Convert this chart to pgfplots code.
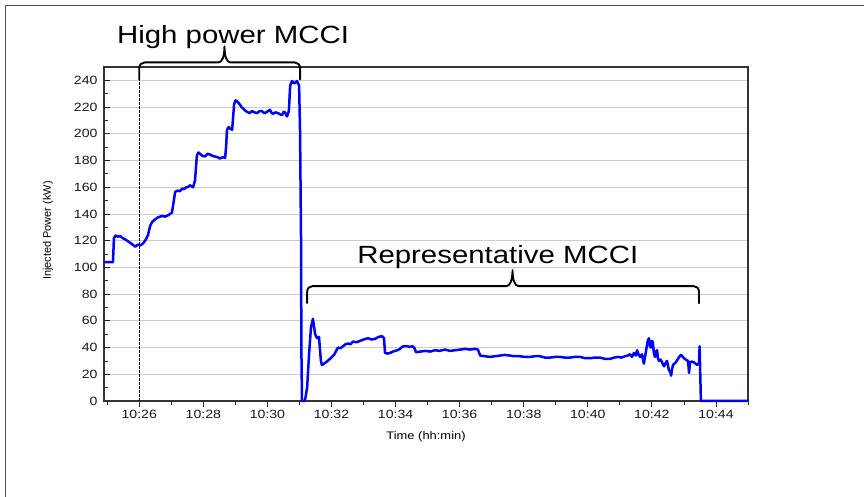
\documentclass[border=0pt]{standalone}
\usepackage{fontspec}
\setmainfont{Liberation Sans}[FakeStretch=1.18]
\newfontfamily\ylabfont{Liberation Sans}
\usepackage{pgfplots}
\pgfplotsset{compat=1.18}
\usetikzlibrary{calc}
\begin{document}
\begin{tikzpicture}
\path[use as bounding box] (0,0) rectangle (864bp,497bp);
\draw[line width=1.5bp, black!70] (5.5bp,0) -- (5.5bp,491.5bp) -- (864bp,491.5bp);
\begin{axis}[
  at={(104bp,96bp)}, anchor=south west,
  width=644bp, height=334bp, scale only axis,
  xmin=24.9, xmax=45.0, ymin=0, ymax=250,
  xtick={26,28,...,44},
  xticklabels={10:26,10:28,10:30,10:32,10:34,10:36,10:38,10:40,10:42,10:44},
  minor xtick={25,27,...,45},
  ytick={0,20,...,240},
  minor ytick={10,30,...,250},
  tick pos=left,
  xtick align=outside, ytick align=inside,
  major tick length=6bp, minor tick length=4bp,
  tick style={black!85, line width=0.8bp},
  ymajorgrids, grid style={gray!40, line width=0.9bp},
  axis line style={black!80, line width=1.1bp},
  /pgf/number format/assume math mode=true,
  tick label style={font=\fontsize{12}{14}\selectfont, text=black!90},
  yticklabel style={xshift=-3bp},
  xlabel={Time (hh:min)},
  ylabel={Injected Power (kW)},
  xlabel style={font=\fontsize{11}{13}\selectfont, at={(axis description cs:0.5,-0.108)}, anchor=center},
  ylabel style={font=\ylabfont\fontsize{11}{13}\selectfont, at={(axis description cs:-0.087,0.51)}, anchor=center},
  clip=false,
]
\addplot[blue, line width=2.5bp, line join=round] coordinates {
(24.90,104) (25.18,104) (25.21,122) (25.27,124) (25.33,123) (25.40,123.5) (25.48,122) (25.56,121)
(25.65,119.5) (25.74,118) (25.80,117) (25.87,115.5) (25.96,117) (26.04,116.5) (26.12,118) (26.21,121)
(26.27,124) (26.34,131) (26.40,134) (26.50,136) (26.59,137.5) (26.71,138.5) (26.80,138) (26.90,139)
(27.02,141) (27.08,150) (27.12,156.5) (27.20,157.5) (27.27,157) (27.34,159) (27.40,158.5) (27.46,160)
(27.52,160) (27.58,161.5) (27.68,160) (27.74,165) (27.80,184) (27.85,186) (27.90,185) (27.97,183.5)
(28.05,183) (28.13,185) (28.21,184.5) (28.28,183.5) (28.36,183) (28.44,182.5) (28.52,181.5) (28.60,182.5)
(28.68,182) (28.71,190) (28.74,203) (28.79,205) (28.83,204) (28.90,203) (28.96,222) (29.00,225)
(29.05,224.5) (29.10,223) (29.14,222) (29.19,220) (29.24,219) (29.30,217.5) (29.36,216.5) (29.44,215.5)
(29.52,217) (29.60,216) (29.68,215.5) (29.75,217) (29.83,217) (29.90,215.5) (29.96,216) (30.02,217)
(30.08,218) (30.12,216) (30.17,215) (30.25,216) (30.33,215.5) (30.40,214.5) (30.46,214) (30.51,216.5)
(30.55,216) (30.61,213) (30.67,217) (30.71,236) (30.77,239.5) (30.82,238) (30.86,238) (30.92,239.5)
(30.99,236) (31.02,200) (31.05,120) (31.06,40) (31.08,0) (31.17,0) (31.24,10) (31.30,35) (31.36,55)
(31.42,61.5) (31.49,50) (31.55,47) (31.61,48) (31.67,30) (31.70,27) (31.77,28) (31.83,29) (31.95,31.5)
(32.08,34.5) (32.20,40) (32.28,39.5) (32.36,41) (32.44,42.5) (32.52,43) (32.60,42.5) (32.67,44.5)
(32.78,44) (32.89,45) (33.00,46) (33.14,47) (33.25,46) (33.36,46.5) (33.47,48) (33.58,48.5) (33.64,47)
(33.67,36) (33.75,35.5) (33.83,36) (33.92,37) (33.98,37.5) (34.06,38) (34.14,39) (34.20,40.5) (34.26,41)
(34.36,41) (34.45,40.5) (34.52,41) (34.58,40) (34.64,36.5) (34.78,37) (34.92,37.5) (35.08,37) (35.23,38)
(35.38,37.5) (35.54,38.5) (35.70,37.5) (35.86,38) (36.02,38.5) (36.17,39) (36.32,38.5) (36.48,39)
(36.57,38.5) (36.64,34) (36.80,33.5) (36.95,33) (37.10,33.5) (37.26,34) (37.41,34.5) (37.57,34)
(37.72,33.5) (37.88,33.5) (38.04,33) (38.20,33) (38.35,33.5) (38.51,33.5) (38.66,32.5) (38.82,32.5)
(38.98,33) (39.13,33) (39.29,32.5) (39.44,32.5) (39.60,33) (39.76,33) (39.92,32) (40.07,32)
(40.22,32.5) (40.38,32.5) (40.54,31.5) (40.69,31.5) (40.82,32.5) (40.94,33) (41.05,32.5) (41.16,33.5)
(41.25,34) (41.32,35) (41.38,33) (41.44,36) (41.50,34) (41.54,38) (41.58,35) (41.63,33) (41.69,35)
(41.75,28) (41.82,38) (41.87,45) (41.91,47) (41.94,41) (41.97,40) (42.00,45) (42.03,44) (42.06,36)
(42.10,33) (42.13,37) (42.16,38) (42.19,32) (42.22,30) (42.27,31) (42.32,29) (42.35,27) (42.38,26)
(42.42,28) (42.47,30) (42.50,27) (42.53,23) (42.57,22) (42.60,19) (42.63,24) (42.66,27) (42.71,28)
(42.75,29) (42.80,31) (42.85,33) (42.91,34.5) (42.95,33.5) (43.00,32) (43.06,31) (43.13,30)
(43.15,24) (43.16,21) (43.18,27) (43.19,29) (43.25,29.5) (43.31,29) (43.36,28) (43.41,27) (43.45,28)
(43.47,28) (43.49,41) (43.51,20) (43.53,0) (45.0,0)
};
\draw[black, line width=0.9bp, dash pattern=on 2.5bp off 1.5bp] (axis cs:26.0,0) -- (axis cs:26.0,240.7);
\coordinate (A1) at (axis cs:26.0,240.7);
\coordinate (B1) at (axis cs:31.02,240.7);
\coordinate (N1) at (axis cs:28.66,240.7);
\coordinate (A2) at (axis cs:31.24,73.3);
\coordinate (B2) at (axis cs:43.47,73.3);
\coordinate (N2) at (axis cs:37.65,73.3);
\node[anchor=base, font=\fontsize{25}{30}\selectfont, inner sep=0pt] at (axis cs:28.93,267.7) {High power MCCI};
\node[anchor=base, font=\fontsize{25}{30}\selectfont, inner sep=0pt] at (axis cs:37.19,103.2) {Representative MCCI};
\end{axis}
\foreach \A/\B/\N in {A1/B1/N1, A2/B2/N2} {
\draw[black, line width=1.9bp, line cap=round, line join=round]
  (\A) -- ($(\A)+(0,11bp)$) .. controls ($(\A)+(0,15bp)$) and ($(\A)+(2.5bp,17bp)$) .. ($(\A)+(5.5bp,17bp)$)
  -- ($(\N)+(-6bp,17bp)$) .. controls ($(\N)+(-2bp,17bp)$) and ($(\N)+(0,24bp)$) .. ($(\N)+(0,33bp)$)
  .. controls ($(\N)+(0,24bp)$) and ($(\N)+(2bp,17bp)$) .. ($(\N)+(6bp,17bp)$)
  -- ($(\B)+(-5.5bp,17bp)$) .. controls ($(\B)+(-2.5bp,17bp)$) and ($(\B)+(0,15bp)$) .. ($(\B)+(0,11bp)$) -- (\B);
}
\end{tikzpicture}
\end{document}
